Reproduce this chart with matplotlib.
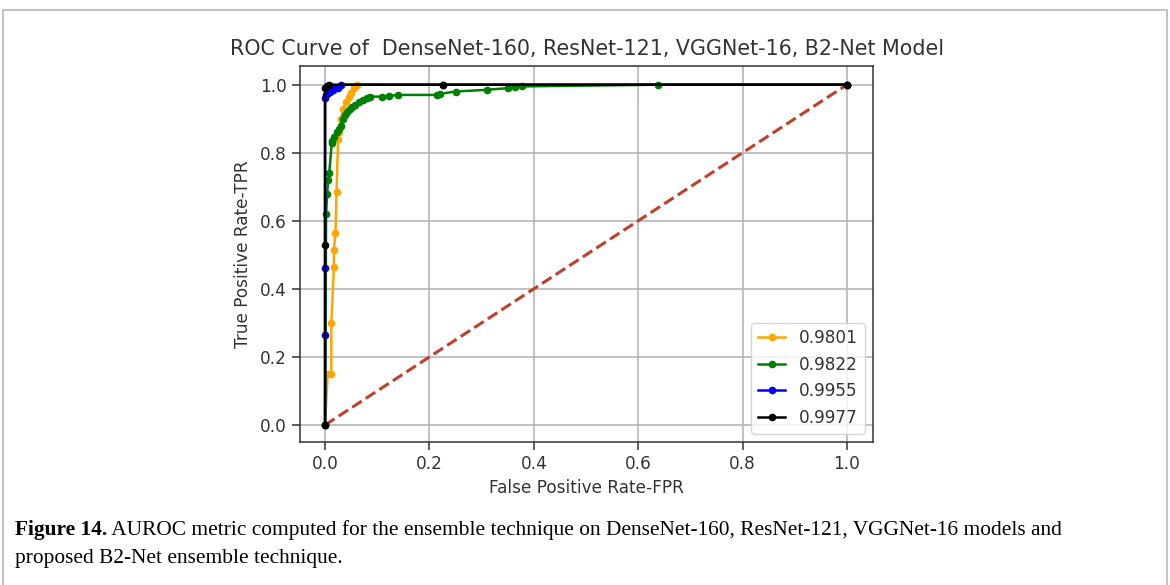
import matplotlib
matplotlib.use("Agg")
import matplotlib.pyplot as plt
from matplotlib.patches import Rectangle

# ---- data ----
labels = ["0.9801", "0.9822", "0.9955", "0.9977"]
colors = ["orange", "green", "blue", "black"]

fpr_dense = [0, 0.005, 0.012, 0.012, 0.017, 0.017, 0.02, 0.022, 0.025, 0.027,
             0.03, 0.035, 0.04, 0.045, 0.05, 0.055, 0.062, 1.0]
tpr_dense = [0, 0.15, 0.15, 0.30, 0.465, 0.515, 0.565, 0.685, 0.84, 0.86,
             0.9, 0.93, 0.95, 0.965, 0.975, 0.99, 1.0, 1.0]

fpr_res = [0, 0.002, 0.004, 0.006, 0.008, 0.013, 0.013, 0.018, 0.022, 0.026,
           0.03, 0.034, 0.038, 0.042, 0.047, 0.052, 0.058, 0.065, 0.072, 0.08,
           0.086, 0.11, 0.123, 0.14, 0.215, 0.22, 0.25, 0.31, 0.35, 0.364,
           0.377, 0.638, 1.0]
tpr_res = [0, 0.62, 0.68, 0.72, 0.74, 0.83, 0.835, 0.845, 0.86, 0.87,
           0.88, 0.9, 0.91, 0.92, 0.93, 0.935, 0.94, 0.95, 0.955, 0.96,
           0.965, 0.965, 0.967, 0.97, 0.97, 0.973, 0.98, 0.985, 0.99, 0.993,
           0.995, 1.0, 1.0]

fpr_vgg = [0, 0, 0, 0, 0.002, 0.006, 0.01, 0.015, 0.02, 0.025, 0.03, 0.226, 1.0]
tpr_vgg = [0, 0.265, 0.46, 0.96, 0.97, 0.975, 0.98, 0.985, 0.99, 0.99, 1.0, 1.0, 1.0]

fpr_b2 = [0, 0, 0, 0.004, 0.008, 0.226, 1.0]
tpr_b2 = [0, 0.53, 0.99, 0.995, 1.0, 1.0, 1.0]

diag = [0, 1]

title = "ROC Curve of  DenseNet-160, ResNet-121, VGGNet-16, B2-Net Model"
xlabel = "False Positive Rate-FPR"
ylabel = "True Positive Rate-TPR"
cap_bold = "Figure 14."
cap_line1 = " AUROC metric computed for the ensemble technique on DenseNet-160, ResNet-121, VGGNet-16 models and"
cap_line2 = "proposed B2-Net ensemble technique."

W, H = 1170, 585
fig = plt.figure(figsize=(W / 100, H / 100), dpi=100)
fig.patch.set_facecolor("white")

# outer frame
fig.add_artist(Rectangle((3 / W, -0.05), (1164) / W, 1 - 10 / H + 0.05,
                         transform=fig.transFigure, fill=False,
                         edgecolor="#c4c4c4", linewidth=1.5))

ax = fig.add_axes([300 / W, 1 - 442 / H, 573 / W, 376 / H])

fs = 12.2
lw = 1.8
ms = 9
ax.plot(diag, diag, linestyle="--", color="#c0402a", linewidth=2.2, zorder=2)
series = [(fpr_dense, tpr_dense), (fpr_res, tpr_res), (fpr_vgg, tpr_vgg), (fpr_b2, tpr_b2)]
for (x, y), c, lab in zip(series, colors, labels):
    ax.plot(x, y, marker=".", color=c, linewidth=lw, markersize=ms, label=lab, zorder=3)

ax.set_xlim(-0.048, 1.05)
ax.set_ylim(-0.05, 1.055)
ax.set_xticks([0, 0.2, 0.4, 0.6, 0.8, 1.0])
ax.set_yticks([0, 0.2, 0.4, 0.6, 0.8, 1.0])
ax.grid(True, color="#b0b0b0", linewidth=1.1)
ax.set_axisbelow(True)
ax.tick_params(labelsize=fs, length=6, width=1.1, colors="#333333", labelcolor="#333333")
for s in ax.spines.values():
    s.set_linewidth(1.1)
    s.set_color("#333333")
ax.set_title(title, fontsize=14.9, color="#333333", pad=8)
ax.set_xlabel(xlabel, fontsize=fs, color="#333333", labelpad=4)
ax.set_ylabel(ylabel, fontsize=fs, color="#333333", labelpad=6)
leg = ax.legend(loc="lower right", fontsize=fs, framealpha=0.8, handlelength=1.6)
for t in leg.get_texts():
    t.set_color("#333333")

# caption
fig.canvas.draw()
r = fig.canvas.get_renderer()
tb = fig.text(15 / W, 1 - 530 / H, cap_bold, fontsize=15.4, family="Liberation Serif",
              fontweight="bold", va="center", ha="left", color="black")
bb = tb.get_window_extent(renderer=r)
fig.text(bb.x1 / W, 1 - 530 / H, cap_line1, fontsize=15.4, family="Liberation Serif",
         va="center", ha="left", color="black")
fig.text(15 / W, 1 - 559 / H, cap_line2, fontsize=15.4, family="Liberation Serif",
         va="center", ha="left", color="black")

fig.savefig("out.png", dpi=100, facecolor="white")
